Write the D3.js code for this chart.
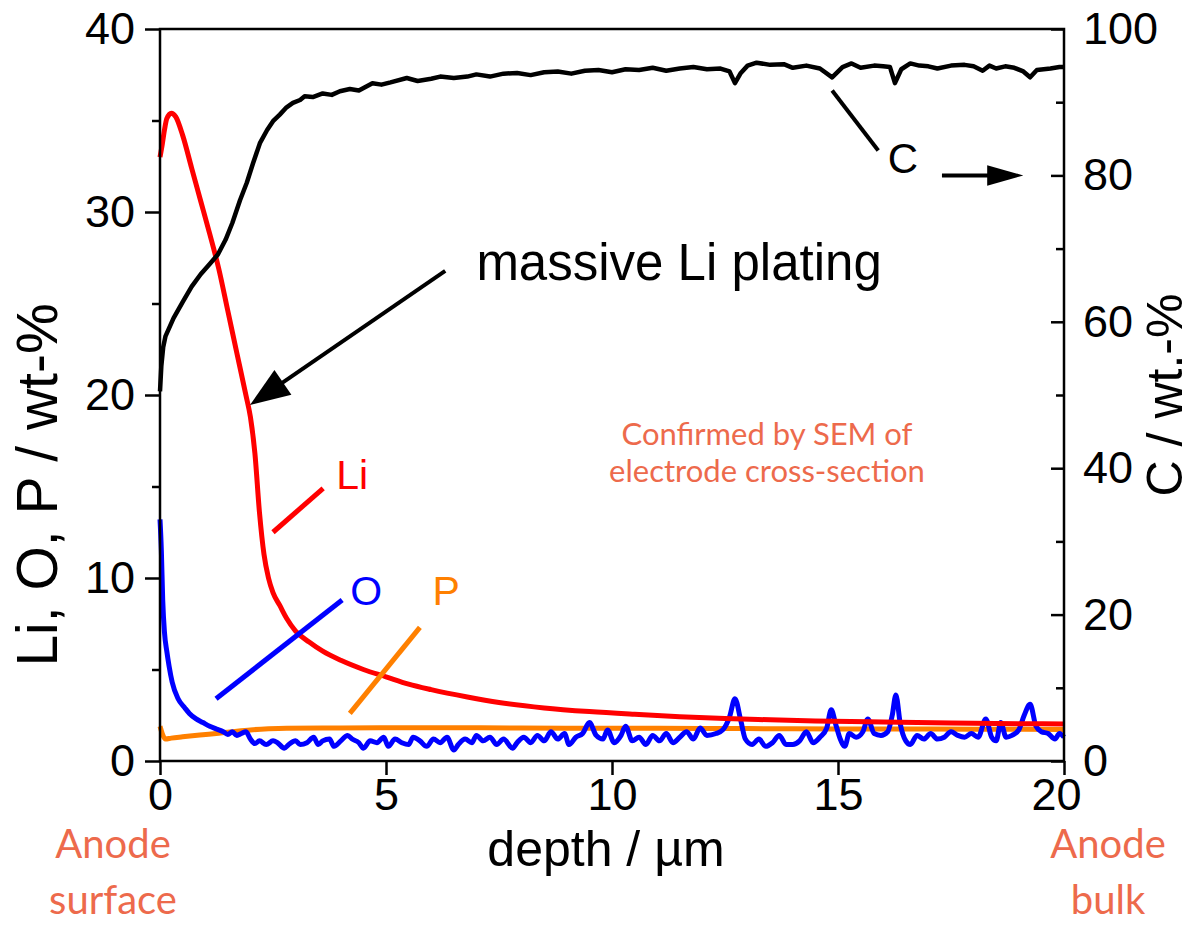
<!DOCTYPE html>
<html><head><meta charset="utf-8">
<script src="https://cdn.jsdelivr.net/npm/d3@7/dist/d3.min.js"></script>
<style>
html,body{margin:0;padding:0;background:#fff;}
svg{display:block;}
</style></head>
<body><svg id="chart" width="1196" height="932"></svg>
<script>
// ---------- DATA ----------
const xTicks = [0, 5, 10, 15, 20];
const yLeftTicks = [0, 10, 20, 30, 40];
const yLeftMinor = [5, 15, 25, 35];
const yRightTicks = [0, 20, 40, 60, 80, 100];
const yRightMinor = [10, 30, 50, 70, 90];

// Li (left axis, wt-%)
const liDepth = [0,0.05,0.1,0.15,0.25,0.35,0.5,0.7,0.9,1.1,1.3,1.5,1.7,1.9,2.0,2.1,2.2,2.3,2.4,2.5,2.65,2.8,3.0,3.3,3.6,4.0,4.5,5.0,5.5,6.0,6.8,7.5,8.5,9.5,10.5,11.5,12.5,13.5,14.5,16,17.5,19,20];
const liValue = [33.0,33.7,34.5,35.1,35.4,35.2,34.2,32.4,30.6,28.8,26.9,24.6,22.3,20.0,18.8,16.8,13.6,11.3,10.0,9.2,8.5,7.8,7.1,6.5,6.0,5.5,5.0,4.6,4.2,3.9,3.5,3.2,2.9,2.7,2.55,2.42,2.32,2.25,2.19,2.13,2.08,2.04,2.02];

// O (left axis, wt-%)
const oDepth = [0,0.03,0.06,0.1,0.15,0.2,0.27,0.4,0.55,0.65,0.8,0.95,1.1,1.25,1.4,1.5,1.6,1.7,1.8,1.9,2.0,2.1,2.2,2.35,2.5,2.6,2.75,2.85,3.0,3.1,3.25,3.4,3.5,3.6,3.75,3.85,4.0,4.15,4.25,4.4,4.5,4.65,4.8,4.95,5.05,5.2,5.35,5.5,5.6,5.75,5.9,6.05,6.2,6.35,6.5,6.6,6.75,6.9,7.0,7.15,7.3,7.45,7.6,7.8,7.9,8.05,8.2,8.35,8.5,8.65,8.8,8.95,9.05,9.2,9.35,9.5,9.65,9.8,9.9,10.05,10.2,10.3,10.45,10.6,10.75,10.9,11.05,11.2,11.35,11.5,11.65,11.8,11.95,12.1,12.3,12.45,12.6,12.72,12.85,12.95,13.1,13.25,13.4,13.55,13.7,13.85,14.0,14.15,14.3,14.45,14.6,14.75,14.85,14.95,15.05,15.15,15.25,15.4,15.55,15.66,15.8,15.95,16.1,16.2,16.28,16.38,16.5,16.6,16.75,16.9,17.05,17.2,17.35,17.5,17.65,17.8,17.95,18.1,18.27,18.4,18.5,18.6,18.72,18.85,19.0,19.12,19.25,19.38,19.5,19.65,19.8,19.9,20.0];
const oValue = [13.2,11.5,8.8,7.0,6.0,5.2,4.3,3.4,2.9,2.6,2.3,2.1,1.9,1.75,1.6,1.45,1.6,1.4,1.5,1.6,1.2,0.95,1.1,0.9,1.1,1.0,0.7,0.9,1.1,0.9,1.0,1.3,0.9,1.1,1.2,0.8,1.1,1.4,1.2,1.0,0.7,1.1,1.0,1.3,0.8,1.2,1.0,0.9,1.3,1.1,0.8,1.2,1.0,1.3,0.6,0.9,1.2,1.0,1.4,1.1,1.3,0.9,1.2,0.7,1.0,1.3,1.0,1.4,1.1,1.6,1.2,1.5,0.9,1.3,1.5,2.1,1.4,1.2,1.7,1.0,1.4,1.9,1.1,1.3,0.9,1.4,1.1,1.5,1.0,1.3,1.6,1.2,1.8,1.4,1.5,1.7,2.4,3.4,2.2,1.2,0.9,1.2,0.8,1.0,1.4,0.9,0.9,1.1,1.6,1.0,1.3,1.8,2.8,2.0,1.2,0.8,1.5,1.3,1.6,2.3,1.5,1.4,1.6,2.5,3.6,2.0,1.1,0.9,1.4,1.2,1.5,1.2,1.3,1.6,1.4,1.3,1.5,1.3,2.3,1.3,1.1,2.1,1.3,1.4,1.7,2.5,3.1,1.9,1.6,1.5,1.2,1.5,1.3];

// P (left axis, wt-%)
const pDepth = [0,0.05,0.12,0.25,0.5,0.88,1.3,1.7,2.0,2.4,2.8,4,6,8,10,12,14,16,18,20];
const pValue = [1.9,1.5,1.2,1.25,1.32,1.42,1.52,1.63,1.7,1.76,1.79,1.8,1.82,1.8,1.79,1.78,1.76,1.75,1.74,1.72];

// C (right axis, wt.-%)
const cDepth = [0,0.03,0.07,0.12,0.3,0.5,0.7,0.9,1.1,1.28,1.45,1.6,1.77,1.92,2.06,2.21,2.37,2.5,2.65,2.8,2.94,3.1,3.2,3.38,3.6,3.8,3.98,4.2,4.4,4.7,4.9,5.1,5.46,5.7,6.0,6.2,6.5,6.8,7.0,7.3,7.6,7.9,8.2,8.5,8.8,9.1,9.4,9.7,10.0,10.3,10.6,10.9,11.2,11.5,11.8,12.1,12.4,12.6,12.72,12.85,13.0,13.2,13.5,13.8,14.0,14.3,14.6,14.87,15.1,15.3,15.5,15.8,16.0,16.15,16.26,16.4,16.6,16.8,17.0,17.2,17.5,17.8,18.0,18.2,18.35,18.5,18.7,18.9,19.1,19.25,19.4,19.7,19.9,20.0];
const cValue = [50.5,54.0,56.5,58.0,60.5,62.7,64.8,66.5,67.9,69.2,71.2,73.5,76.6,79.0,81.7,84.4,86.2,87.4,88.3,89.3,89.9,90.3,90.8,90.7,91.2,91.0,91.5,91.8,91.6,92.6,92.4,92.7,93.3,92.9,93.2,93.5,93.3,93.5,93.8,93.5,93.9,94.0,93.7,94.1,94.2,93.9,94.3,94.4,94.1,94.5,94.4,94.7,94.3,94.6,94.8,94.5,94.6,94.2,92.6,94.0,95.0,95.4,95.1,95.2,94.7,95.0,94.6,93.4,94.8,95.3,94.7,95.0,94.9,94.8,92.6,94.5,95.3,95.0,94.9,94.6,95.0,95.1,94.9,94.3,95.0,94.6,94.9,94.7,94.2,93.4,94.4,94.6,94.8,94.8];

// ---------- LAYOUT ----------
const W = 1196, H = 932;
const L = 160, R = 1064, T = 29, B = 761;
const svg = d3.select('#chart');
svg.append('rect').attr('width', W).attr('height', H).attr('fill', '#fff');

const x = d3.scaleLinear().domain([0, 20]).range([L, R]);
const yL = d3.scaleLinear().domain([0, 40]).range([B, T]);
const yR = d3.scaleLinear().domain([0, 100]).range([B, T]);

const FONT = '"Liberation Sans", Arial, sans-serif';
const CAL = 'Lato, "Open Sans", sans-serif';
const NOTE = '#ED6A4C';

// ---------- LINES ----------
const mk = (xs, ys, ys_scale) => xs.map((d, i) => [x(d), ys_scale(ys[i])]);
const line = d3.line().curve(d3.curveMonotoneX);
const g = svg.append('g');
g.append('path').attr('d', line(mk(pDepth, pValue, yL))).attr('fill', 'none').attr('stroke', '#FF8000').attr('stroke-width', 5).attr('stroke-linejoin', 'round');
g.append('path').attr('d', line(mk(oDepth, oValue, yL))).attr('fill', 'none').attr('stroke', '#0000FF').attr('stroke-width', 5).attr('stroke-linejoin', 'round');
g.append('path').attr('d', line(mk(liDepth, liValue, yL))).attr('fill', 'none').attr('stroke', '#FF0000').attr('stroke-width', 5).attr('stroke-linejoin', 'round');
g.append('path').attr('d', d3.line()(mk(cDepth, cValue, yR))).attr('fill', 'none').attr('stroke', '#000').attr('stroke-width', 4.5).attr('stroke-linejoin', 'round');

// ---------- AXES ----------
const axG = svg.append('g').attr('font-family', FONT);
function styleAxis(sel) {
  sel.select('.domain').remove();
  sel.selectAll('line').attr('stroke', '#000').attr('stroke-width', 2.5);
  sel.selectAll('text').attr('font-family', FONT).attr('font-size', 45).attr('fill', '#000');
}
// bottom
const xa = axG.append('g').attr('transform', `translate(0,${B})`)
  .call(d3.axisBottom(x).tickValues(xTicks).tickSize(14).tickPadding(3).tickFormat(d3.format('d')));
styleAxis(xa);
xa.selectAll('.tick text').filter(d => d === 20).attr('dx', -8);
// left major
const yla = axG.append('g').attr('transform', `translate(${L},0)`)
  .call(d3.axisLeft(yL).tickValues(yLeftTicks).tickSize(15).tickPadding(10).tickFormat(d3.format('d')));
styleAxis(yla);
const ylm = axG.append('g').attr('transform', `translate(${L},0)`)
  .call(d3.axisLeft(yL).tickValues(yLeftMinor).tickSize(8).tickFormat(''));
styleAxis(ylm);
// right major (inward ticks)
const yra = axG.append('g').attr('transform', `translate(${R},0)`)
  .call(d3.axisRight(yR).tickValues(yRightTicks).tickSize(0).tickPadding(19).tickFormat(d3.format('d')));
styleAxis(yra);
yra.selectAll('.tick').append('line').attr('x1', 0).attr('x2', -13).attr('stroke', '#000').attr('stroke-width', 2.5);
const yrm = axG.append('g').attr('transform', `translate(${R},0)`)
  .call(d3.axisRight(yR).tickValues(yRightMinor).tickSize(0).tickFormat(''));
styleAxis(yrm);
yrm.selectAll('.tick').append('line').attr('x1', 0).attr('x2', -8).attr('stroke', '#000').attr('stroke-width', 2.5);

// frame
svg.append('rect').attr('x', L).attr('y', T).attr('width', R - L).attr('height', B - T)
  .attr('fill', 'none').attr('stroke', '#000').attr('stroke-width', 2.5);

// axis titles
svg.append('text').attr('x', 606).attr('y', 866).attr('text-anchor', 'middle')
  .attr('font-family', FONT).attr('font-size', 50).text('depth / µm');
svg.append('text').attr('transform', `translate(57,485) rotate(-90)`).attr('text-anchor', 'middle')
  .attr('font-family', FONT).attr('font-size', 57).text('Li, O, P / wt-%');
svg.append('text').attr('transform', `translate(1182,395) rotate(-90)`).attr('text-anchor', 'middle')
  .attr('font-family', FONT).attr('font-size', 50).text('C / wt.-%');

// ---------- ANNOTATIONS (data coordinates) ----------
const ann = svg.append('g').attr('font-family', FONT);
function seg(x1, y1, x2, y2, sc, color, w) {
  ann.append('line').attr('x1', x(x1)).attr('y1', sc(y1)).attr('x2', x(x2)).attr('y2', sc(y2))
    .attr('stroke', color).attr('stroke-width', w);
}
function label(xv, yv, sc, txt, color, size) {
  ann.append('text').attr('x', x(xv)).attr('y', sc(yv)).attr('fill', color).attr('font-size', size).text(txt);
}
// Li
seg(2.50, 12.5, 3.61, 14.9, yL, '#FF0000', 5);
label(3.90, 14.85, yL, 'Li', '#FF0000', 41);
// O
seg(1.24, 3.4, 4.03, 8.8, yL, '#0000FF', 5);
label(4.21, 8.55, yL, 'O', '#0000FF', 41);
// P
seg(4.20, 2.6, 5.75, 7.3, yL, '#FF8000', 5);
label(6.03, 8.5, yL, 'P', '#FF8000', 41);
// C
seg(14.87, 91.6, 15.89, 83.4, yR, '#000', 4);
label(16.10, 80.3, yR, 'C', '#000', 42);
// C arrow to right axis
seg(17.3, 80.0, 18.5, 80.0, yR, '#000', 4);
ann.append('path')
  .attr('d', d3.line()([[x(18.3), yR(81.4)], [x(19.1), yR(80.0)], [x(18.3), yR(78.6)]]) + 'Z')
  .attr('fill', '#000');
// massive Li plating arrow
(function(){
  const x0 = x(6.31), y0 = yL(26.78), x1 = x(1.99), y1 = yL(19.45);
  const ang = Math.atan2(y1 - y0, x1 - x0);
  const hl = 40, hw = 15;
  const bx = x1 - hl * Math.cos(ang), by = y1 - hl * Math.sin(ang);
  ann.append('line').attr('x1', x0).attr('y1', y0).attr('x2', bx + 4 * Math.cos(ang)).attr('y2', by + 4 * Math.sin(ang))
    .attr('stroke', '#000').attr('stroke-width', 4);
  ann.append('path').attr('d', d3.line()([
    [x1, y1],
    [bx + hw * Math.sin(ang), by - hw * Math.cos(ang)],
    [bx - hw * Math.sin(ang), by + hw * Math.cos(ang)]]) + 'Z').attr('fill', '#000');
})();
label(7.0, 26.3, yL, 'massive Li plating', '#000', 51);

// orange notes
const note = svg.append('g').attr('font-family', CAL).attr('fill', NOTE).attr('text-anchor', 'middle');
note.append('text').attr('x', 767).attr('y', 445).attr('font-size', 31).text('Confirmed by SEM of');
note.append('text').attr('x', 767).attr('y', 482).attr('font-size', 31).text('electrode cross-section');
note.append('text').attr('x', 113).attr('y', 858).attr('font-size', 40).text('Anode');
note.append('text').attr('x', 113).attr('y', 914).attr('font-size', 40).text('surface');
note.append('text').attr('x', 1108).attr('y', 858).attr('font-size', 40).text('Anode');
note.append('text').attr('x', 1108).attr('y', 914).attr('font-size', 40).text('bulk');
</script></body></html>
